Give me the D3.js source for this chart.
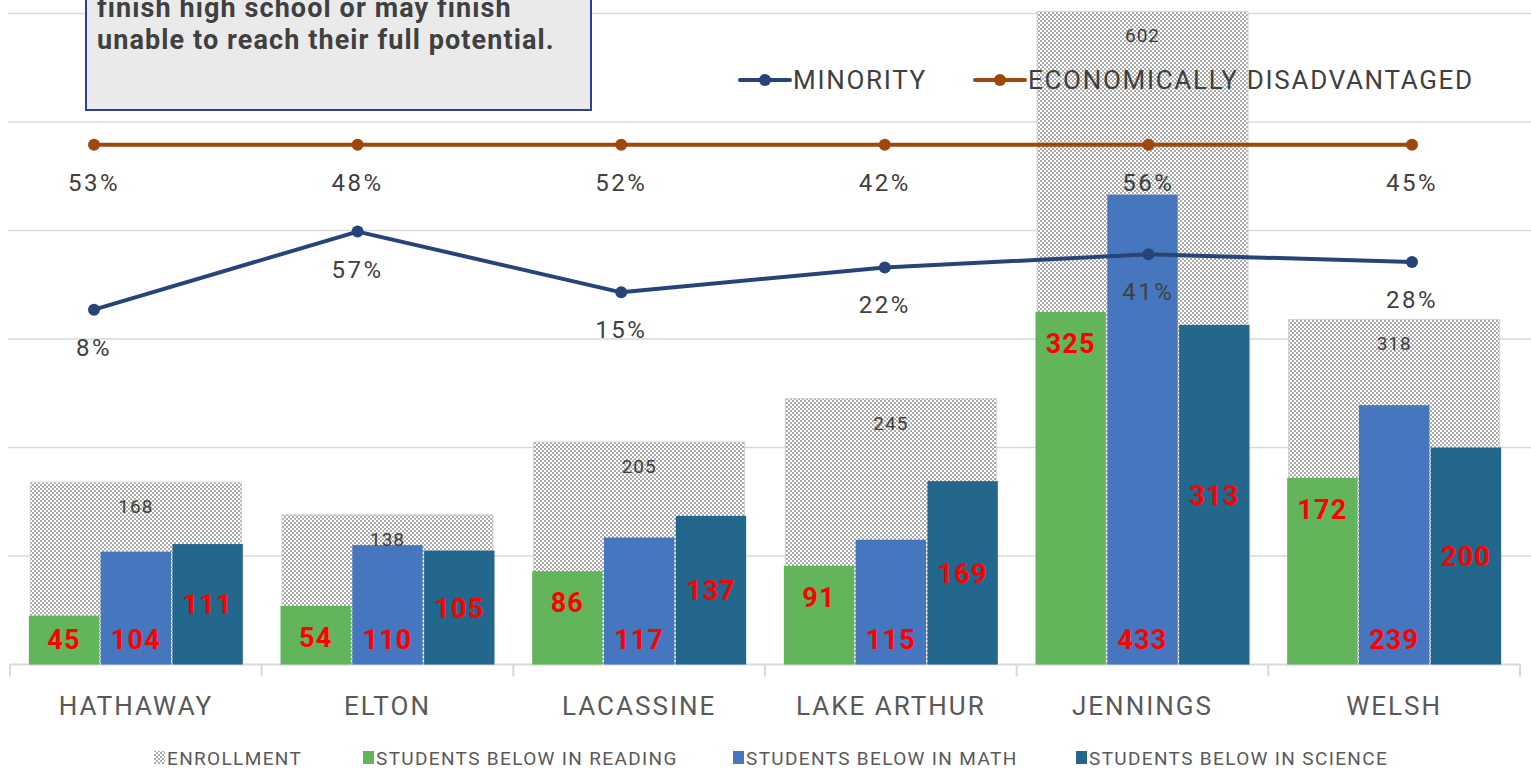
<!DOCTYPE html>
<html>
<head>
<meta charset="utf-8">
<script src="https://cdn.jsdelivr.net/npm/d3@7"></script>
<style>
  html, body { margin: 0; padding: 0; background: #fff; }
  svg { display: block; font-family: Roboto, "Noto Sans", sans-serif; }
</style>
</head>
<body>
<svg id="chart" width="1531" height="769"></svg>
<script>
// ---- data ----
const categories = ["HATHAWAY", "ELTON", "LACASSINE", "LAKE ARTHUR", "JENNINGS", "WELSH"];
const enrollment = [168, 138, 205, 245, 602, 318];
const reading    = [45, 54, 86, 91, 325, 172];
const math       = [104, 110, 117, 115, 433, 239];
const science    = [111, 105, 137, 169, 313, 200];
// line series: labels shown and level at which each point is plotted (primary-axis units)
const minorityLabels  = ["8%", "57%", "15%", "22%", "41%", "28%"];
const minorityPlotted = [327, 399, 343, 366, 378, 371];
const econLabels      = ["53%", "48%", "52%", "42%", "56%", "45%"];
const econPlotted     = [479, 479, 479, 479, 479, 479];
const yTicks = [0, 100, 200, 300, 400, 500, 600];
const barSeries = ["STUDENTS BELOW IN READING", "STUDENTS BELOW IN MATH", "STUDENTS BELOW IN SCIENCE"];
const lineSeries = ["MINORITY", "ECONOMICALLY DISADVANTAGED"];
const noteLines = ["finish high school or may finish", "unable to reach their full potential."];

// ---- styles ----
const C = {
  grid: "#d9d9d9", axisText: "#595959", label: "#404040",
  reading: "#62b55b", math: "#4677be", science: "#24678c",
  minority: "#264478", econ: "#9e480e", red: "#ff0000"
};

const svg = d3.select("#chart");
const defs = svg.append("defs");
const pat = defs.append("pattern").attr("id", "checker")
  .attr("width", 4).attr("height", 4).attr("patternUnits", "userSpaceOnUse");
pat.append("rect").attr("width", 4).attr("height", 4).attr("fill", "#ffffff");
pat.append("rect").attr("width", 2).attr("height", 2).attr("fill", "#ababab");
pat.append("rect").attr("x", 2).attr("y", 2).attr("width", 2).attr("height", 2).attr("fill", "#ababab");

const x = d3.scaleBand().domain(categories).range([10, 1520]).padding(0);
const y = d3.scaleLinear().domain([0, 600]).range([664.5, 13.5]);
const xLine = d3.scalePoint().domain(categories).range([94, 1412]);

// gridlines
svg.append("g").selectAll("line").data(yTicks.filter(d => d > 0)).join("line")
  .attr("x1", 8).attr("x2", 1531).attr("y1", d => y(d)).attr("y2", d => y(d))
  .attr("stroke", C.grid).attr("stroke-width", 1.5);

// x axis
const xAxis = d3.axisBottom(x).tickSize(0).tickFormat(d => d);
const gx = svg.append("g").attr("transform", `translate(0,${y(0)})`).call(xAxis);
gx.select(".domain").attr("stroke", C.grid).attr("stroke-width", 2).attr("d", "M10,0H1520");
gx.selectAll("text").attr("dy", null).attr("y", 50).attr("font-size", 26)
  .attr("letter-spacing", 2).attr("fill", C.axisText).attr("font-family", "Roboto, sans-serif");
// category boundary ticks
const bounds = categories.map(c => x(c)).concat([x.range()[1]]);
svg.append("g").selectAll("line").data(bounds).join("line")
  .attr("x1", d => d).attr("x2", d => d).attr("y1", y(0)).attr("y2", y(0) + 12)
  .attr("stroke", C.grid).attr("stroke-width", 2);

// enrollment bars
const ew = 211;
svg.append("g").selectAll("rect").data(categories).join("rect")
  .attr("x", d => x(d) + x.bandwidth() / 2 - ew / 2)
  .attr("width", ew)
  .attr("y", (d, i) => y(enrollment[i]))
  .attr("height", (d, i) => y(0) - y(enrollment[i]))
  .attr("fill", "url(#checker)").attr("stroke", "#d0d0d0").attr("stroke-width", 1);

// inner bars
const sub = d3.scaleBand().domain([0, 1, 2]).range([-107, 107]).paddingInner(0.02);
const seriesVals = [reading, math, science];
const seriesCols = [C.reading, C.math, C.science];
seriesVals.forEach((vals, s) => {
  svg.append("g").selectAll("rect").data(categories).join("rect")
    .attr("x", d => x(d) + x.bandwidth() / 2 + sub(s))
    .attr("width", sub.bandwidth())
    .attr("y", (d, i) => y(vals[i]))
    .attr("height", (d, i) => y(0) - y(vals[i]))
    .attr("fill", seriesCols[s]);
});

// enrollment labels
svg.append("g").selectAll("text").data(categories).join("text")
  .attr("x", d => x(d) + x.bandwidth() / 2)
  .attr("y", (d, i) => y(enrollment[i]) + 31)
  .attr("text-anchor", "middle").attr("font-size", 19).attr("letter-spacing", 1).attr("fill", C.label)
  .text((d, i) => enrollment[i]);

// inner bar labels
function barLabels(vals, s, posFn) {
  svg.append("g").selectAll("text").data(categories).join("text")
    .attr("x", d => x(d) + x.bandwidth() / 2 + sub(s) + sub.bandwidth() / 2)
    .attr("y", (d, i) => posFn(vals[i]) + 10)
    .attr("text-anchor", "middle").attr("font-size", 27).attr("font-weight", "bold")
    .attr("letter-spacing", 1.2).attr("fill", C.red)
    .text((d, i) => vals[i]);
}
barLabels(reading, 0, v => Math.min(y(v) + 31, y(0) - 26));
barLabels(math, 1, v => y(0) - 26);
barLabels(science, 2, v => (y(v) + y(0)) / 2);

// lines
function drawLine(vals, labels, color) {
  const line = d3.line().x((d, i) => xLine(categories[i])).y(d => y(d));
  svg.append("path").datum(vals).attr("d", line).attr("fill", "none")
    .attr("stroke", color).attr("stroke-width", 4).attr("stroke-linejoin", "round");
  svg.append("g").selectAll("circle").data(vals).join("circle")
    .attr("cx", (d, i) => xLine(categories[i])).attr("cy", d => y(d)).attr("r", 6)
    .attr("fill", color);
  svg.append("g").selectAll("text").data(vals).join("text")
    .attr("x", (d, i) => xLine(categories[i])).attr("y", d => y(d) + 46)
    .attr("text-anchor", "middle").attr("font-size", 24).attr("letter-spacing", 2.5).attr("fill", C.label)
    .text((d, i) => labels[i]);
}
drawLine(econPlotted, econLabels, C.econ);
drawLine(minorityPlotted, minorityLabels, C.minority);

// top legend (line series)
const topLeg = [{ x: 740, name: lineSeries[0], color: C.minority }, { x: 975, name: lineSeries[1], color: C.econ }];
const tl = svg.append("g").selectAll("g").data(topLeg).join("g")
  .attr("transform", d => `translate(${d.x},80)`);
tl.append("line").attr("x1", 0).attr("x2", 50).attr("stroke", d => d.color).attr("stroke-width", 4)
  .attr("stroke-linecap", "round");
tl.append("circle").attr("cx", 25).attr("r", 6).attr("fill", d => d.color);
tl.append("text").attr("x", 53).attr("y", 9).attr("font-size", 26).attr("letter-spacing", 1.7)
  .attr("fill", C.label).text(d => d.name);

// bottom legend
const botLeg = [
  { x: 154, name: "ENROLLMENT", fill: "url(#checker)" },
  { x: 363, name: barSeries[0], fill: C.reading },
  { x: 733, name: barSeries[1], fill: C.math },
  { x: 1076, name: barSeries[2], fill: C.science }
];
const bl = svg.append("g").selectAll("g").data(botLeg).join("g")
  .attr("transform", d => `translate(${d.x},758)`);
bl.append("rect").attr("x", 0).attr("y", -7).attr("width", 11).attr("height", 13).attr("fill", d => d.fill);
bl.append("text").attr("x", 13).attr("y", 7).attr("font-size", 19).attr("letter-spacing", 1.35)
  .attr("fill", C.axisText).text(d => d.name);

// note box
const note = svg.append("g");
note.append("rect").attr("x", 86).attr("y", -60).attr("width", 505).attr("height", 170)
  .attr("fill", "#eaeaea").attr("stroke", "#2f3f93").attr("stroke-width", 2);
note.selectAll("text").data(noteLines).join("text")
  .attr("x", 97).attr("y", (d, i) => 17 + i * 32)
  .attr("font-size", 27).attr("font-weight", "bold").attr("letter-spacing", 1.1).attr("fill", C.label)
  .text(d => d);
</script>
</body>
</html>
